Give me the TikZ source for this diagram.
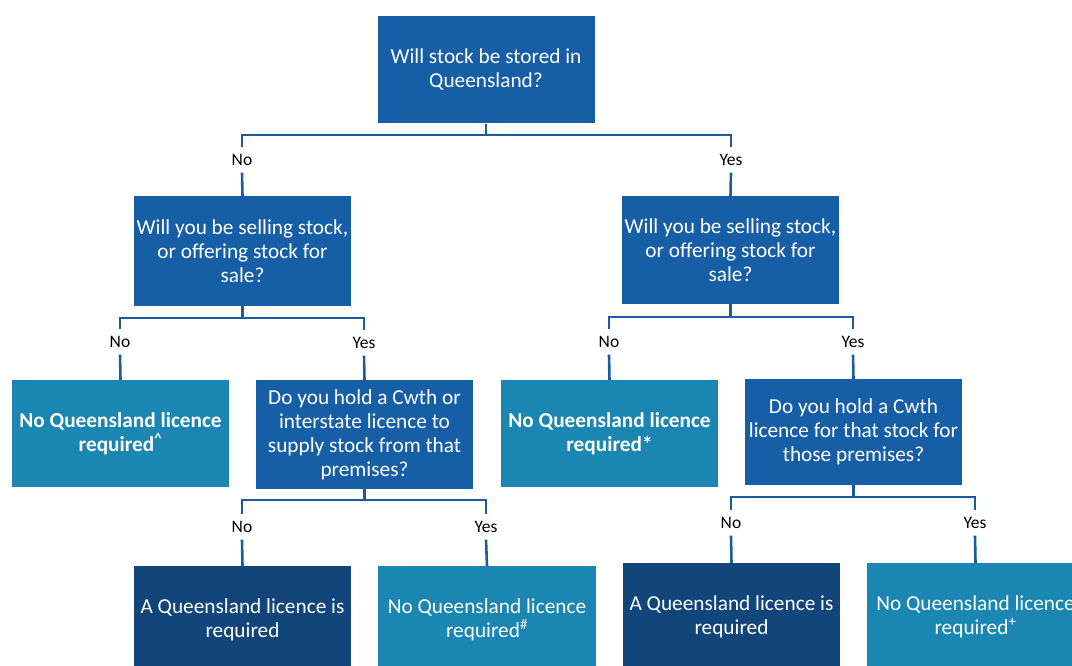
\documentclass[tikz,border=0pt]{standalone}
\usepackage{fontspec}
\setmainfont{Carlito}
\definecolor{qblue}{HTML}{165FA7}
\definecolor{teal}{HTML}{1A86B1}
\definecolor{navy}{HTML}{12467A}
\definecolor{linec}{HTML}{1C5C9E}
\tikzset{
  box/.style={minimum width=217pt, minimum height=#1, inner sep=0pt, text=white, align=center,
    font=\fontsize{21.3}{24}\selectfont},
  qbox/.style={box=107pt, fill=qblue},
  tbox/.style={box=107pt, fill=teal},
  nbox/.style={box=107pt, fill=navy},
  lbl/.style={inner sep=0pt, minimum height=25pt, font=\fontsize{17.5}{20}\selectfont, text=black},
  conn/.style={draw=linec, line width=2.6pt}
}
\begin{document}
\begin{tikzpicture}[x=1pt,y=-1pt]
\useasboundingbox (0,0) rectangle (1072,666);
\clip (0,0) rectangle (1072,666);
% boxes
\node[qbox] (top) at (486,70) {Will stock be stored in\\Queensland?};
\node[qbox, minimum height=110pt] (qL) at (242.5,251) {Will you be selling stock,\\or offering stock for\\sale?};
\node[qbox, minimum height=108pt] (qR) at (730.5,250) {Will you be selling stock,\\or offering stock for\\sale?};
\node[tbox] (nL) at (120.5,433.5) {\bfseries No Queensland licence\\\bfseries required\textsuperscript{\^{}}};
\node[qbox, minimum height=109pt] (qLR) at (364.5,434.5) {Do you hold a Cwth or\\interstate licence to\\supply stock from that\\premises?};
\node[tbox] (nR) at (609.5,433.5) {\bfseries No Queensland licence\\\bfseries required*};
\node[qbox, minimum height=106pt] (qRR) at (853.5,432) {Do you hold a Cwth\\licence for that stock for\\those premises?};
\node[nbox] (aL) at (242.5,619.5) {A Queensland licence is\\required};
\node[tbox, minimum width=218pt] (bL) at (487,619.5) {No Queensland licence\\required\textsuperscript{\#}};
\node[nbox] (aR) at (731.5,616.5) {A Queensland licence is\\required};
\node[tbox, minimum width=217pt] (bR) at (975.5,616.5) {No Queensland licence\\required\textsuperscript{+}};
% labels
\node[lbl] (l1) at (242,160) {No};
\node[lbl] (l2) at (731,160) {Yes};
\node[lbl] (l3) at (120,342) {No};
\node[lbl] (l4) at (364,343) {Yes};
\node[lbl] (l5) at (609,342) {No};
\node[lbl] (l6) at (853,342) {Yes};
\node[lbl] (l7) at (242,527) {No};
\node[lbl] (l8) at (486,527) {Yes};
\node[lbl] (l9) at (731,523) {No};
\node[lbl] (l10) at (975,523) {Yes};
% junctions
\coordinate (j1) at (486,135);
\coordinate (j2) at (242.5,318);
\coordinate (j3) at (730.5,317);
\coordinate (j4) at (364.5,500);
\coordinate (j5) at (853.5,497);
% connectors
\draw[conn] (top.south) -- (j1);
\draw[conn] (l1.north) |- (j1) -| (l2.north);
\draw[conn] (l1.south) -- (qL.north);
\draw[conn] (l2.south) -- (qR.north);
\draw[conn] (qL.south) -- (j2);
\draw[conn] (l3.north) |- (j2) -| (l4.north);
\draw[conn] (l3.south) -- (nL.north);
\draw[conn] (l4.south) -- (qLR.north);
\draw[conn] (qR.south) -- (j3);
\draw[conn] (l5.north) |- (j3) -| (l6.north);
\draw[conn] (l5.south) -- (nR.north);
\draw[conn] (l6.south) -- (qRR.north);
\draw[conn] (qLR.south) -- (j4);
\draw[conn] (l7.north) |- (j4) -| (l8.north);
\draw[conn] (l7.south) -- (aL.north);
\draw[conn] (l8.south) -- (bL.north);
\draw[conn] (qRR.south) -- (j5);
\draw[conn] (l9.north) |- (j5) -| (l10.north);
\draw[conn] (l9.south) -- (aR.north);
\draw[conn] (l10.south) -- (bR.north);
\end{tikzpicture}
\end{document}
